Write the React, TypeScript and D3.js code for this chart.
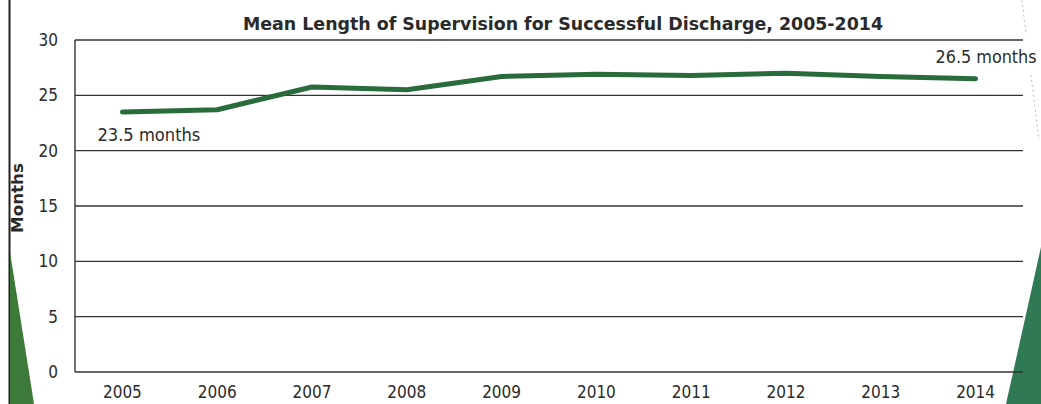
import React from "react";
import * as d3 from "d3";

const years = ["2005", "2006", "2007", "2008", "2009", "2010", "2011", "2012", "2013", "2014"];
const months = [23.5, 23.7, 25.75, 25.5, 26.7, 26.9, 26.8, 27.0, 26.7, 26.5];
const yTicks = [0, 5, 10, 15, 20, 25, 30];
const title = "Mean Length of Supervision for Successful Discharge, 2005-2014";
const firstLabel = "23.5 months";
const lastLabel = "26.5 months";

const W = 1041, H = 404;
const M = { left: 75, right: 1023, top: 40, bottom: 372 };
const FONT = "'DejaVu Sans Condensed', 'DejaVu Sans', Verdana, sans-serif";
const INK = "#2a2a2a";

export default function App() {
  const x = d3.scalePoint<string>().domain(years).range([M.left, M.right]).padding(0.5);
  const y = d3.scaleLinear().domain([0, 30]).range([M.bottom, M.top]);
  const line = d3.line<number>().x((_, i) => x(years[i]) as number).y((d) => y(d)).curve(d3.curveLinear);
  const lastX = x(years[years.length - 1]) as number;
  const firstX = x(years[0]) as number;

  return (
    <svg width={W} height={H} style={{ position: "absolute", left: 0, top: 0, background: "#fff" }}>
      <rect x={0} y={0} width={W} height={H} fill="#fff" />
      {/* page decorations */}
      <line x1={9.5} y1={0} x2={9.5} y2={H} stroke="#222" strokeWidth={2} />
      <path d={`M10,252 L10,${H} L34,${H} Z`} fill="#3d7a3a" />
      <path d={`M1041,247 L1041,${H} L1006,${H} Z`} fill="#2f7a55" />
      <line x1={1022} y1={0} x2={1026} y2={35} stroke="#bbb" strokeWidth={1} strokeDasharray="2,3" />
      <line x1={1031} y1={75} x2={1039} y2={140} stroke="#bbb" strokeWidth={1} strokeDasharray="2,3" />

      {/* gridlines */}
      {yTicks.map((t) => (
        <line key={t} x1={M.left} x2={M.right} y1={y(t)} y2={y(t)} stroke="#333" strokeWidth={1.4} />
      ))}
      <line x1={M.left} x2={M.left} y1={M.top} y2={M.bottom} stroke="#333" strokeWidth={1.4} />

      {/* y tick labels */}
      {yTicks.map((t) => (
        <text key={t} x={58} y={y(t) + 6} textAnchor="end" fontFamily={FONT} fontSize={17} fill={INK}>
          {t}
        </text>
      ))}
      {/* x tick labels */}
      {years.map((yr) => (
        <text key={yr} x={x(yr) as number} y={398} textAnchor="middle" fontFamily={FONT} fontSize={17} fill={INK}>
          {yr}
        </text>
      ))}

      {/* y axis title */}
      <text transform="translate(23,198) rotate(-90)" textAnchor="middle" fontFamily={FONT} fontSize={16} fontWeight="bold" fill={INK} textLength={70} lengthAdjust="spacingAndGlyphs">
        Months
      </text>

      {/* title */}
      <text x={563} y={30} textAnchor="middle" fontFamily={FONT} fontSize={18} fontWeight="bold" fill={INK} textLength={640} lengthAdjust="spacingAndGlyphs">
        {title}
      </text>

      {/* data line */}
      <path d={line(months) || ""} fill="none" stroke="#2a6b3c" strokeWidth={5} strokeLinejoin="round" strokeLinecap="round" />

      {/* annotations */}
      <text x={firstX - 25} y={141} fontFamily={FONT} fontSize={17} fill={INK} textLength={103} lengthAdjust="spacingAndGlyphs">
        {firstLabel}
      </text>
      <text x={lastX - 40} y={63} fontFamily={FONT} fontSize={17} fill={INK} textLength={101} lengthAdjust="spacingAndGlyphs">
        {lastLabel}
      </text>
    </svg>
  );
}
